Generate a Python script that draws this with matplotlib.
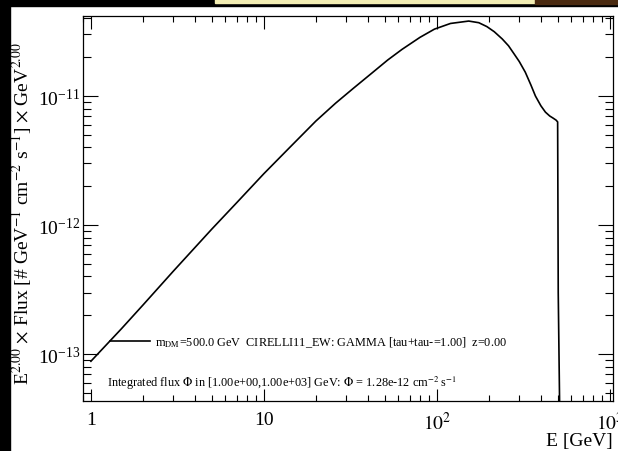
import numpy as np
import matplotlib
matplotlib.use('Agg')
import matplotlib.pyplot as plt
from matplotlib.patches import Rectangle
from matplotlib.ticker import FixedLocator, FixedFormatter, LogLocator, NullFormatter

# spectrum: E [GeV] and E^2 * flux
energy = [1, 1.5, 2, 3, 5, 7, 10, 14, 20, 26, 33, 42, 52, 63, 80, 97, 120,
          153, 175, 195, 215, 239, 260, 280, 300, 325, 350, 372, 400, 425,
          450, 470, 490, 500, 504, 520]
e2flux = [8.8e-14, 1.57e-13, 2.4e-13, 4.4e-13, 9.3e-13, 1.5e-12, 2.5e-12,
          3.95e-12, 6.4e-12, 8.8e-12, 1.15e-11, 1.5e-11, 1.9e-11, 2.3e-11,
          2.85e-11, 3.3e-11, 3.65e-11, 3.81e-11, 3.7e-11, 3.45e-11, 3.15e-11,
          2.77e-11, 2.45e-11, 2.12e-11, 1.85e-11, 1.53e-11, 1.22e-11, 1.0e-11,
          8.4e-12, 7.5e-12, 7.0e-12, 6.75e-12, 6.5e-12, 6.3e-12, 3.0e-13, 1.0e-14]

xticks = [1, 10, 100, 1000]
xticklabels = ['1', '10', '$10^2$', '$10^3$']

legend_text = r'm$_{\rm DM}$=500.0 GeV  CIRELLI11_EW: GAMMA [tau+tau-=1.00]  z=0.00'
flux_text = r'Integrated flux $\Phi$ in [1.00e+00,1.00e+03] GeV: $\Phi$ = 1.28e-12 cm$^{-2}$ s$^{-1}$'

plt.rcParams['font.family'] = ['Liberation Serif', 'DejaVu Serif']
plt.rcParams['mathtext.fontset'] = 'stix'

fig = plt.figure(figsize=(6.18, 4.52), dpi=100)

# screenshot borders
fig.patches.append(Rectangle((0, 0), 10/618, 1, transform=fig.transFigure,
                             color='black', zorder=-1))
fig.patches.append(Rectangle((0, 1 - 7/452), 1, 7/452, transform=fig.transFigure,
                             color='black', zorder=-1))
fig.patches.append(Rectangle((215/618, 1 - 4/452), 320/618, 4/452, transform=fig.transFigure,
                             color='#f3eeb4', zorder=0))
fig.patches.append(Rectangle((535/618, 1 - 5/452), 83/618, 5/452, transform=fig.transFigure,
                             color='#4a2a10', zorder=0))

ax = fig.add_axes([83/618, 50/452, 530/618, 385/452])
line, = ax.plot(energy, e2flux, color='black', lw=1.2, label=legend_text)
ax.set_xscale('log')
ax.set_yscale('log')
ax.set_xlim(0.9, 1045)
ax.set_ylim(4.33e-14, 4.17e-11)

ax.xaxis.set_major_locator(FixedLocator(xticks))
ax.xaxis.set_major_formatter(FixedFormatter(xticklabels))
ax.xaxis.set_minor_locator(LogLocator(base=10, subs=np.arange(2, 10)))
ax.xaxis.set_minor_formatter(NullFormatter())
ax.yaxis.set_minor_locator(LogLocator(base=10, subs=np.arange(2, 10), numticks=20))
ax.yaxis.set_minor_formatter(NullFormatter())

ax.tick_params(which='both', direction='in', top=True, right=True, width=0.8,
               labelsize=14, colors='black')
ax.tick_params(axis='y', which='major', length=11, pad=2)
ax.tick_params(axis='y', which='minor', length=6)
ax.tick_params(axis='x', which='major', length=9, pad=7)
ax.tick_params(axis='x', which='minor', length=4.5)
for s in ax.spines.values():
    s.set_linewidth(0.9)

ax.set_ylabel(r'E$^{2.00}$ $\times$ Flux [# GeV$^{-1}$ cm$^{-2}$ s$^{-1}$] $\times$ GeV$^{2.00}$',
              fontsize=14, labelpad=0)
ax.yaxis.set_label_coords(-0.093, 0.49)
ax.set_xlabel('E [GeV]', fontsize=14, labelpad=0)
ax.xaxis.set_label_coords(1.0, -0.08)
ax.xaxis.label.set_ha('right')

ax.legend(handles=[line], loc='center left', bbox_to_anchor=(0.051, 0.153),
          frameon=False, fontsize=8.8, handlelength=3.3, handletextpad=0.4,
          borderpad=0, borderaxespad=0)
ax.text(0.045, 0.049, flux_text, transform=ax.transAxes, fontsize=8.8,
        ha='left', va='center')

fig.savefig('out.png', dpi=100)
